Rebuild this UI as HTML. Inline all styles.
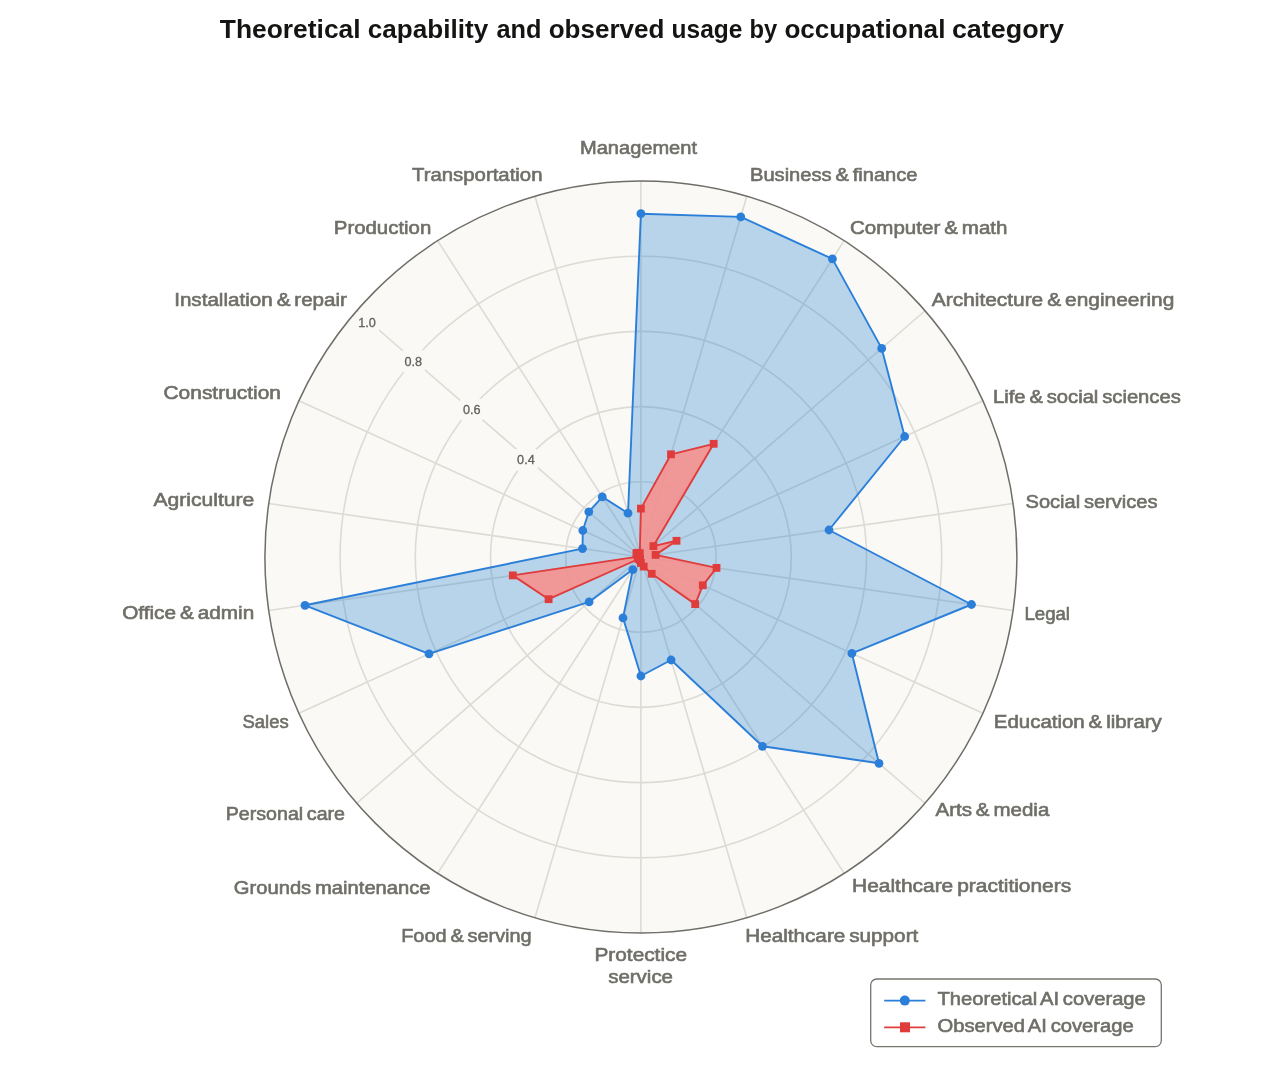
<!DOCTYPE html>
<html lang="en"><head><meta charset="utf-8"><title>Theoretical capability and observed usage by occupational category</title>
<style>html,body{margin:0;padding:0;background:#fff}body{width:1280px;height:1071px;overflow:hidden}svg{display:block}</style></head>
<body>
<svg width="1280" height="1071" viewBox="0 0 1280 1071">
<rect width="1280" height="1071" fill="#fff"/>
<circle cx="640.9" cy="557.0" r="376.0" fill="#faf9f5"/>
<g stroke="#dcdbd5" stroke-width="1.6" fill="none">
<circle cx="640.9" cy="557.0" r="75.20"/>
<circle cx="640.9" cy="557.0" r="150.40"/>
<circle cx="640.9" cy="557.0" r="225.60"/>
<circle cx="640.9" cy="557.0" r="300.80"/>
<line x1="640.9" y1="557.0" x2="640.90" y2="181.00"/>
<line x1="640.9" y1="557.0" x2="746.83" y2="196.23"/>
<line x1="640.9" y1="557.0" x2="844.18" y2="240.69"/>
<line x1="640.9" y1="557.0" x2="925.06" y2="310.77"/>
<line x1="640.9" y1="557.0" x2="982.92" y2="400.80"/>
<line x1="640.9" y1="557.0" x2="1013.07" y2="503.49"/>
<line x1="640.9" y1="557.0" x2="1013.07" y2="610.51"/>
<line x1="640.9" y1="557.0" x2="982.92" y2="713.20"/>
<line x1="640.9" y1="557.0" x2="925.06" y2="803.23"/>
<line x1="640.9" y1="557.0" x2="844.18" y2="873.31"/>
<line x1="640.9" y1="557.0" x2="746.83" y2="917.77"/>
<line x1="640.9" y1="557.0" x2="640.90" y2="933.00"/>
<line x1="640.9" y1="557.0" x2="534.97" y2="917.77"/>
<line x1="640.9" y1="557.0" x2="437.62" y2="873.31"/>
<line x1="640.9" y1="557.0" x2="356.74" y2="803.23"/>
<line x1="640.9" y1="557.0" x2="298.88" y2="713.20"/>
<line x1="640.9" y1="557.0" x2="268.73" y2="610.51"/>
<line x1="640.9" y1="557.0" x2="268.73" y2="503.49"/>
<line x1="640.9" y1="557.0" x2="298.88" y2="400.80"/>
<line x1="640.9" y1="557.0" x2="356.74" y2="310.77"/>
<line x1="640.9" y1="557.0" x2="437.62" y2="240.69"/>
<line x1="640.9" y1="557.0" x2="534.97" y2="196.23"/>
</g>
<g font-family="'Liberation Sans', sans-serif" font-size="12.5" fill="#63625d" stroke="#63625d" stroke-width="0.3" text-anchor="middle">
<rect x="355.1" y="311.5" width="24" height="22" rx="4" fill="#faf9f5" stroke="none"/>
<text x="367.1" y="327.1" textLength="17.6" lengthAdjust="spacingAndGlyphs">1.0</text>
<rect x="401.3" y="350.0" width="24" height="22" rx="4" fill="#faf9f5" stroke="none"/>
<text x="413.3" y="365.6" textLength="17.6" lengthAdjust="spacingAndGlyphs">0.8</text>
<rect x="459.7" y="398.7" width="24" height="22" rx="4" fill="#faf9f5" stroke="none"/>
<text x="471.7" y="414.3" textLength="17.6" lengthAdjust="spacingAndGlyphs">0.6</text>
<rect x="513.9" y="448.7" width="24" height="22" rx="4" fill="#faf9f5" stroke="none"/>
<text x="525.9" y="464.3" textLength="17.6" lengthAdjust="spacingAndGlyphs">0.4</text>
</g>
<polygon points="640.9,213.7 740.8,216.9 832.4,258.9 881.7,348.4 904.7,436.5 829.0,530.0 971.5,604.5 851.9,653.4 879.0,763.3 762.5,746.3 671.1,660.0 640.9,676.0 623.0,617.9 632.8,569.6 589.1,601.9 429.0,653.8 305.0,605.3 582.5,548.6 582.8,530.5 588.8,511.8 602.3,496.9 628.0,513.2" fill="#1e7ed0" fill-opacity="0.3" stroke="none"/>
<polygon points="640.9,508.6 671.0,454.3 713.7,443.8 653.4,546.1 676.5,540.8 655.6,554.9 716.5,567.9 702.8,585.3 695.2,604.1 651.7,573.8 643.7,566.6 640.9,563.0 640.1,559.9 639.8,558.7 638.6,559.0 548.6,599.2 512.8,575.4 637.9,556.6 637.3,555.3 636.4,553.1 638.2,552.8 639.8,553.2" fill="#f29492" fill-opacity="0.95" stroke="none"/>
<polygon points="640.9,213.7 740.8,216.9 832.4,258.9 881.7,348.4 904.7,436.5 829.0,530.0 971.5,604.5 851.9,653.4 879.0,763.3 762.5,746.3 671.1,660.0 640.9,676.0 623.0,617.9 632.8,569.6 589.1,601.9 429.0,653.8 305.0,605.3 582.5,548.6 582.8,530.5 588.8,511.8 602.3,496.9 628.0,513.2" fill="none" stroke="#2c7fd9" stroke-width="1.9" stroke-linejoin="round"/>
<g fill="#2c7fd9">
<circle cx="640.9" cy="213.7" r="4.4"/>
<circle cx="740.8" cy="216.9" r="4.4"/>
<circle cx="832.4" cy="258.9" r="4.4"/>
<circle cx="881.7" cy="348.4" r="4.4"/>
<circle cx="904.7" cy="436.5" r="4.4"/>
<circle cx="829.0" cy="530.0" r="4.4"/>
<circle cx="971.5" cy="604.5" r="4.4"/>
<circle cx="851.9" cy="653.4" r="4.4"/>
<circle cx="879.0" cy="763.3" r="4.4"/>
<circle cx="762.5" cy="746.3" r="4.4"/>
<circle cx="671.1" cy="660.0" r="4.4"/>
<circle cx="640.9" cy="676.0" r="4.4"/>
<circle cx="623.0" cy="617.9" r="4.4"/>
<circle cx="632.8" cy="569.6" r="4.4"/>
<circle cx="589.1" cy="601.9" r="4.4"/>
<circle cx="429.0" cy="653.8" r="4.4"/>
<circle cx="305.0" cy="605.3" r="4.4"/>
<circle cx="582.5" cy="548.6" r="4.4"/>
<circle cx="582.8" cy="530.5" r="4.4"/>
<circle cx="588.8" cy="511.8" r="4.4"/>
<circle cx="602.3" cy="496.9" r="4.4"/>
<circle cx="628.0" cy="513.2" r="4.4"/>
</g>
<polygon points="640.9,508.6 671.0,454.3 713.7,443.8 653.4,546.1 676.5,540.8 655.6,554.9 716.5,567.9 702.8,585.3 695.2,604.1 651.7,573.8 643.7,566.6 640.9,563.0 640.1,559.9 639.8,558.7 638.6,559.0 548.6,599.2 512.8,575.4 637.9,556.6 637.3,555.3 636.4,553.1 638.2,552.8 639.8,553.2" fill="none" stroke="#e03c3c" stroke-width="1.9" stroke-linejoin="round"/>
<g fill="#e03c3c">
<rect x="637.0" y="504.7" width="7.8" height="7.8"/>
<rect x="667.1" y="450.4" width="7.8" height="7.8"/>
<rect x="709.8" y="439.9" width="7.8" height="7.8"/>
<rect x="649.5" y="542.2" width="7.8" height="7.8"/>
<rect x="672.6" y="536.9" width="7.8" height="7.8"/>
<rect x="651.7" y="551.0" width="7.8" height="7.8"/>
<rect x="712.6" y="564.0" width="7.8" height="7.8"/>
<rect x="698.9" y="581.4" width="7.8" height="7.8"/>
<rect x="691.3" y="600.2" width="7.8" height="7.8"/>
<rect x="647.8" y="569.9" width="7.8" height="7.8"/>
<rect x="639.8" y="562.7" width="7.8" height="7.8"/>
<rect x="637.0" y="559.1" width="7.8" height="7.8"/>
<rect x="636.2" y="556.0" width="7.8" height="7.8"/>
<rect x="635.9" y="554.8" width="7.8" height="7.8"/>
<rect x="634.7" y="555.1" width="7.8" height="7.8"/>
<rect x="544.7" y="595.3" width="7.8" height="7.8"/>
<rect x="508.9" y="571.5" width="7.8" height="7.8"/>
<rect x="634.0" y="552.7" width="7.8" height="7.8"/>
<rect x="633.4" y="551.4" width="7.8" height="7.8"/>
<rect x="632.5" y="549.2" width="7.8" height="7.8"/>
<rect x="634.3" y="548.9" width="7.8" height="7.8"/>
<rect x="635.9" y="549.3" width="7.8" height="7.8"/>
</g>
<circle cx="640.9" cy="557.0" r="376.0" fill="none" stroke="#6e6d68" stroke-width="1.5"/>
<g font-family="'Liberation Sans', sans-serif" font-size="18.3" fill="#6f6e68" stroke="#6f6e68" stroke-width="0.6" word-spacing="-1.6">
<text x="580.0" y="154.2" textLength="117.0" lengthAdjust="spacingAndGlyphs">Management</text>
<text x="750.0" y="180.8" textLength="167.5" lengthAdjust="spacingAndGlyphs">Business &amp; finance</text>
<text x="850.0" y="234.2" textLength="157.5" lengthAdjust="spacingAndGlyphs">Computer &amp; math</text>
<text x="931.8" y="305.5" textLength="242.5" lengthAdjust="spacingAndGlyphs">Architecture &amp; engineering</text>
<text x="993.0" y="403.0" textLength="187.8" lengthAdjust="spacingAndGlyphs">Life &amp; social sciences</text>
<text x="1025.5" y="507.5" textLength="132.0" lengthAdjust="spacingAndGlyphs">Social services</text>
<text x="1024.5" y="620.0" textLength="45.5" lengthAdjust="spacingAndGlyphs">Legal</text>
<text x="993.8" y="728.0" textLength="168.0" lengthAdjust="spacingAndGlyphs">Education &amp; library</text>
<text x="935.5" y="815.8" textLength="113.8" lengthAdjust="spacingAndGlyphs">Arts &amp; media</text>
<text x="852.1" y="891.5" textLength="219.1" lengthAdjust="spacingAndGlyphs">Healthcare practitioners</text>
<text x="745.2" y="941.9" textLength="173.1" lengthAdjust="spacingAndGlyphs">Healthcare support</text>
<text x="594.5" y="961.2" textLength="92.5" lengthAdjust="spacingAndGlyphs">Protectice</text>
<text x="608.2" y="983.2" textLength="64.8" lengthAdjust="spacingAndGlyphs">service</text>
<text x="401.2" y="941.8" textLength="130.5" lengthAdjust="spacingAndGlyphs">Food &amp; serving</text>
<text x="233.8" y="893.8" textLength="196.8" lengthAdjust="spacingAndGlyphs">Grounds maintenance</text>
<text x="225.8" y="820.0" textLength="119.2" lengthAdjust="spacingAndGlyphs">Personal care</text>
<text x="242.5" y="727.5" textLength="46.2" lengthAdjust="spacingAndGlyphs">Sales</text>
<text x="122.2" y="618.9" textLength="132.1" lengthAdjust="spacingAndGlyphs">Office &amp; admin</text>
<text x="153.5" y="506.2" textLength="100.8" lengthAdjust="spacingAndGlyphs">Agriculture</text>
<text x="163.5" y="399.0" textLength="117.5" lengthAdjust="spacingAndGlyphs">Construction</text>
<text x="174.2" y="306.2" textLength="172.8" lengthAdjust="spacingAndGlyphs">Installation &amp; repair</text>
<text x="333.8" y="234.2" textLength="97.5" lengthAdjust="spacingAndGlyphs">Production</text>
<text x="412.0" y="180.8" textLength="130.5" lengthAdjust="spacingAndGlyphs">Transportation</text>
</g>
<rect x="870.7" y="979" width="290.6" height="67.6" rx="6" fill="#fff" stroke="#75746e" stroke-width="1.3"/>
<line x1="884.2" y1="1000.6" x2="925.4" y2="1000.6" stroke="#2c7fd9" stroke-width="1.8"/>
<circle cx="904.8" cy="1000.6" r="5" fill="#2c7fd9"/>
<line x1="884.2" y1="1027.3" x2="925.4" y2="1027.3" stroke="#e03c3c" stroke-width="1.8"/>
<rect x="900" y="1022.3" width="10" height="10" fill="#e03c3c"/>
<g font-family="'Liberation Sans', sans-serif" font-size="18.3" fill="#6f6e68" stroke="#6f6e68" stroke-width="0.6" word-spacing="-1.6">
<text x="937.5" y="1005.4" textLength="208.3" lengthAdjust="spacingAndGlyphs">Theoretical AI coverage</text>
<text x="937.5" y="1032.1" textLength="196.2" lengthAdjust="spacingAndGlyphs">Observed AI coverage</text>
</g>
<text font-family="'Liberation Sans', sans-serif" font-size="25.5" font-weight="700" fill="#141413" y="37.7">
<tspan x="219.8" textLength="140.8" lengthAdjust="spacingAndGlyphs">Theoretical</tspan> <tspan x="367.8" textLength="120.4" lengthAdjust="spacingAndGlyphs">capability</tspan> <tspan x="496.4" textLength="45.0" lengthAdjust="spacingAndGlyphs">and</tspan> <tspan x="548.7" textLength="115.8" lengthAdjust="spacingAndGlyphs">observed</tspan> <tspan x="671.6" textLength="70.8" lengthAdjust="spacingAndGlyphs">usage</tspan> <tspan x="749.6" textLength="27.7" lengthAdjust="spacingAndGlyphs">by</tspan> <tspan x="784.4" textLength="161.0" lengthAdjust="spacingAndGlyphs">occupational</tspan> <tspan x="951.9" textLength="112.1" lengthAdjust="spacingAndGlyphs">category</tspan>
</text>
</svg>
</body></html>
